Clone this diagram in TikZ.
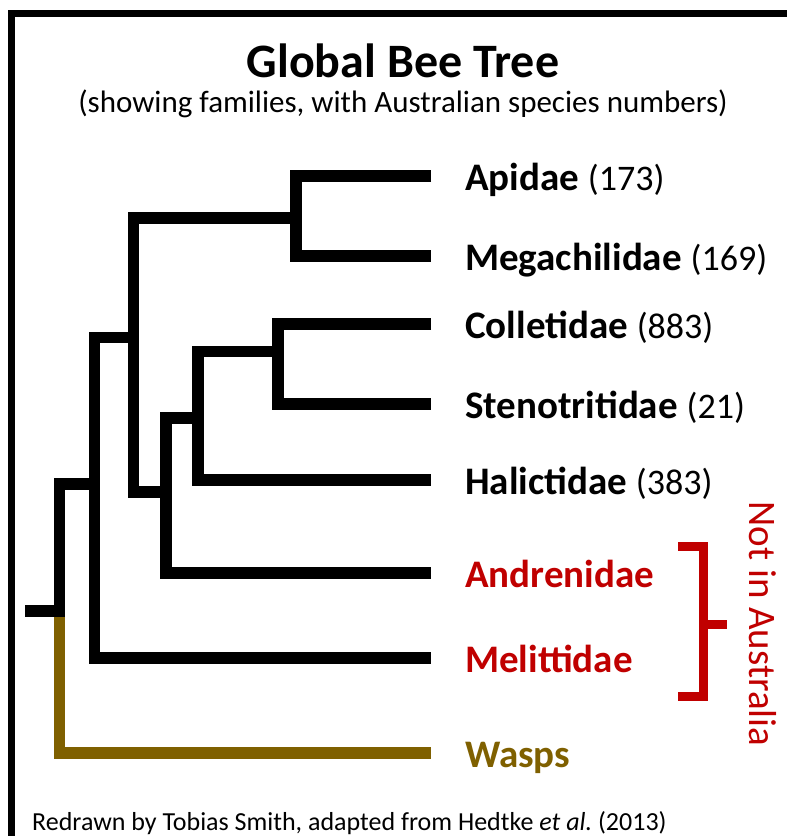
\documentclass[tikz,border=0pt]{standalone}
\usepackage{fontspec}
\setmainfont{Carlito}
\definecolor{beered}{HTML}{C00000}
\definecolor{waspbrown}{HTML}{7F6000}
\newcommand{\spnum}[1]{{\fontsize{36}{36}\selectfont\mdseries #1}}
\frenchspacing
\begin{document}
\begin{tikzpicture}[x=1pt,y=-1pt,
  branch/.style={line width=11.5pt, line join=miter, line cap=butt},
  bracketline/.style={beered, line width=9pt, line join=miter, line cap=butt},
  taxon/.style={anchor=base west, inner sep=0pt, font=\fontsize{39}{39}\selectfont\bfseries}]
\useasboundingbox (0,0) rectangle (787,836);
\fill[white] (0,0) rectangle (787,836);
% frame
\draw[line width=7pt, line join=miter] (11.5,840) -- (11.5,13.5) -- (792,13.5);
% titles
\node[anchor=base, inner sep=0pt, font=\fontsize{48}{48}\selectfont\bfseries] (title) at (403,77) {Global Bee Tree};
\node[anchor=base, inner sep=0pt, font=\fontsize{31}{31}\selectfont] (subtitle) at (403,112) {(showing families, with Australian species numbers)};
\node[anchor=base west, inner sep=0pt, font=\fontsize{26}{26}\selectfont] (credit) at (32,830) {Redrawn by Tobias Smith, adapted from Hedtke \textit{et al.}\ (2013)};
% leaf ends
\coordinate (lApi) at (431,176);
\coordinate (lMeg) at (431,256);
\coordinate (lCol) at (431,324);
\coordinate (lSte) at (431,404);
\coordinate (lHal) at (431,480);
\coordinate (lAnd) at (431,573);
\coordinate (lMel) at (431,658);
\coordinate (lWas) at (431,753);
% internal nodes
\coordinate (nA) at (296,218);
\coordinate (n1) at (278,351.5);
\coordinate (n2) at (198,418);
\coordinate (n3) at (166,492);
\coordinate (n4) at (133.5,337.5);
\coordinate (n5) at (94.5,484);
\coordinate (n6) at (59.5,611);
\coordinate (root) at (25,611);
% labels
\node[taxon] (tApi) at (465,190) {Apidae \spnum{(173)}};
\node[taxon] (tMeg) at (465,270) {Megachilidae \spnum{(169)}};
\node[taxon] (tCol) at (465,338) {Colletidae \spnum{(883)}};
\node[taxon] (tSte) at (465,418) {Stenotritidae \spnum{(21)}};
\node[taxon] (tHal) at (465,494) {Halictidae \spnum{(383)}};
\node[taxon, text=beered] (tAnd) at (465,587) {Andrenidae};
\node[taxon, text=beered] (tMel) at (465,672) {Melittidae};
\node[taxon, text=waspbrown] (tWas) at (465,767) {Wasps};
% tree
\draw[branch, waspbrown] (n6) |- (lWas);
\draw[branch] (lApi) -| (nA) |- (lMeg);
\draw[branch] (lCol) -| (n1) |- (lSte);
\draw[branch] (n1) -| (n2) |- (lHal);
\draw[branch] (n2) -| (n3) |- (lAnd);
\draw[branch] (nA) -| (n4) |- (n3);
\draw[branch] (n4) -| (n5) |- (lMel);
\draw[branch] (n5) -| (n6) -- (root);
% bracket
\coordinate (bT) at (678,546.5);
\coordinate (bB) at (678,696);
\coordinate (bM) at (703,624.5);
\coordinate (bTip) at (727,624.5);
\draw[bracketline] (bT) -| (bM) |- (bB);
\draw[bracketline] (bM) -- (bTip);
\node[rotate=-90, inner sep=0pt, text=beered, font=\fontsize{39}{39}\selectfont] (nia) at (763,624) {Not in Australia};
\end{tikzpicture}
\end{document}
